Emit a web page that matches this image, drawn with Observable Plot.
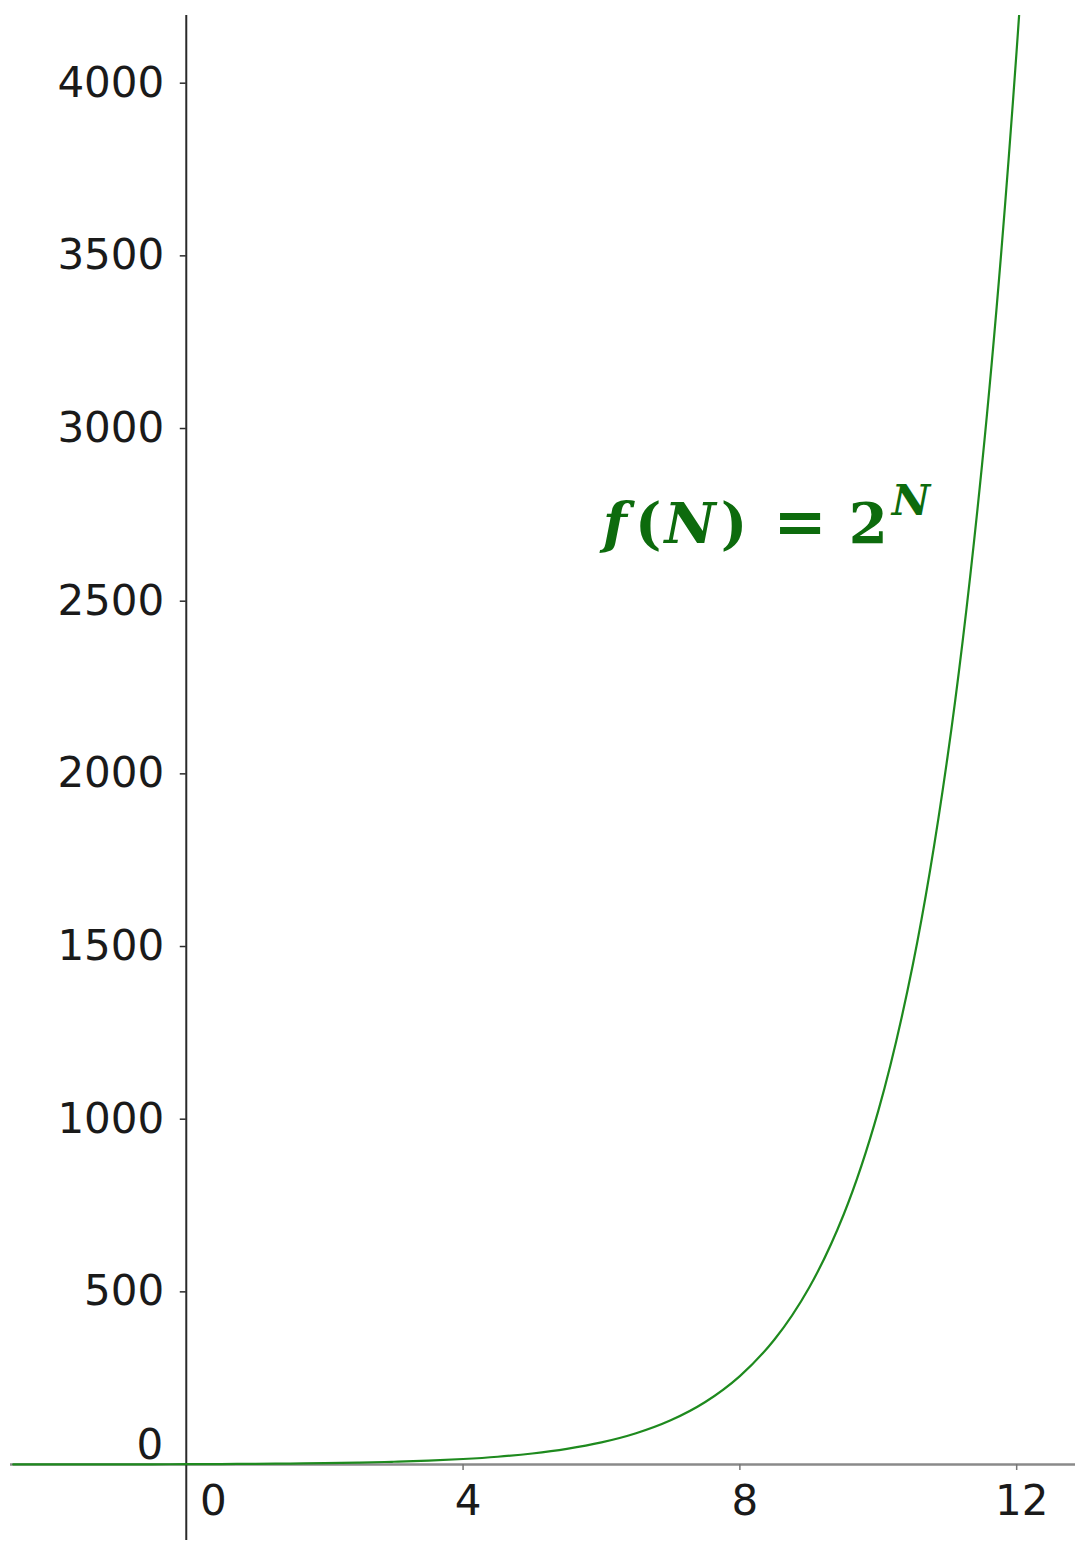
<!DOCTYPE html>
<html>
<head>
<meta charset="utf-8">
<script src="https://cdn.jsdelivr.net/npm/d3@7"></script>
<script src="https://cdn.jsdelivr.net/npm/@observablehq/plot@0.6"></script>
<style>
  html, body { margin: 0; padding: 0; background: #fff; }
  #chart svg { display: block; }
</style>
</head>
<body>
<div id="chart"></div>
<script>
// Curve samples (N, f(N))
const nValues = [-2.5, -2, -1.5, -1, -0.5, 0, 0.5, 1, 1.5, 2, 2.5, 3, 3.5, 4, 4.5, 5, 5.5, 6, 6.5, 7, 7.5, 8, 8.5, 9, 9.5, 10, 10.5, 11, 11.5, 12, 12.5];
const fValues = [0.18, 0.25, 0.35, 0.5, 0.71, 1, 1.41, 2, 2.83, 4, 5.66, 8, 11.3, 16, 22.6, 32, 45.3, 64, 90.5, 128, 181, 256, 362, 512, 724, 1024, 1448, 2048, 2896, 4096, 5793];

// Tick labels
const yTicks = [500, 1000, 1500, 2000, 2500, 3000, 3500, 4000];
const xTicks = [4, 8, 12];
const zeroLabel = [0];

// Annotation
const labelPos = [{N: 6.02, f: 2668}];

const xDomain = [-2.54, 12.85];
const yDomain = [-220, 4196];

const data = nValues.map((n, i) => ({N: n, f: fValues[i]}));

const font = "DejaVu Sans, sans-serif";
const ink = "#1a1a1a";
const curveColor = "#1e8a1e";
const labelColor = "#0d6b0d";

const chart = Plot.plot({
  width: 1076,
  height: 1542,
  marginLeft: 10,
  marginRight: 1,
  marginTop: 15,
  marginBottom: 2,
  x: {domain: xDomain, axis: null},
  y: {domain: yDomain, axis: null},
  style: {background: "#fff", fontFamily: font, overflow: "visible"},
  marks: [
    // x axis line (gray)
    Plot.ruleY([0], {x1: xDomain[0], x2: xDomain[1], stroke: "#8a8a8a", strokeWidth: 2.5}),
    // x ticks
    Plot.ruleX(xTicks, {x: d => d, y1: 0, y2: 0, insetBottom: -6, stroke: "#777", strokeWidth: 1.5}),
    // y axis line
    Plot.ruleX([0], {y1: yDomain[0], y2: yDomain[1], stroke: "#2a2a2a", strokeWidth: 2}),
    // y ticks
    Plot.ruleY(yTicks, {y: d => d, x1: 0, x2: 0, insetLeft: -6, stroke: "#2a2a2a", strokeWidth: 1.5}),
    // curve
    Plot.line(data, {x: "N", y: "f", stroke: curveColor, strokeWidth: 2.2, curve: "catmull-rom", clip: true}),
    // y labels
    Plot.text(yTicks, {x: 0, y: d => d, text: d => String(d), dx: -22, textAnchor: "end", fontSize: 42, fill: ink}),
    Plot.text(zeroLabel, {x: 0, y: d => d, text: d => String(d), dx: -23, dy: -19, textAnchor: "end", fontSize: 42, fill: ink}),
    // x labels
    Plot.text(xTicks, {x: d => d, y: 0, text: d => String(d), dx: 5, dy: 37, textAnchor: "middle", fontSize: 42, fill: ink}),
    Plot.text(zeroLabel, {x: d => d, y: 0, text: d => String(d), dx: 27, dy: 37, textAnchor: "middle", fontSize: 42, fill: ink}),
    // formula label
    Plot.text(labelPos, {x: "N", y: "f", text: () => "f(N) = 2N", textAnchor: "start", lineAnchor: "bottom", fontSize: 56, fontWeight: "bold", fontFamily: "DejaVu Serif, serif", fill: labelColor, className: "formula"})
  ]
});

document.getElementById("chart").appendChild(chart);

// Rich formatting of the formula: italic f and N, superscript N
d3.select(chart).selectAll(".formula text").each(function() {
  const t = d3.select(this);
  t.text(null);
  t.append("tspan").attr("font-style", "italic").text("f");
  t.append("tspan").attr("dx", 8).text("(");
  t.append("tspan").attr("dx", 3).attr("font-style", "italic").text("N");
  t.append("tspan").attr("dx", 5).text(")");
  t.append("tspan").attr("dx", 26).attr("font-size", 64).text("=");
  t.append("tspan").attr("dx", 22).text("2");
  t.append("tspan").attr("dx", 4).attr("dy", -28).attr("font-style", "italic").attr("font-size", 42).text("N");
});
</script>
</body>
</html>
